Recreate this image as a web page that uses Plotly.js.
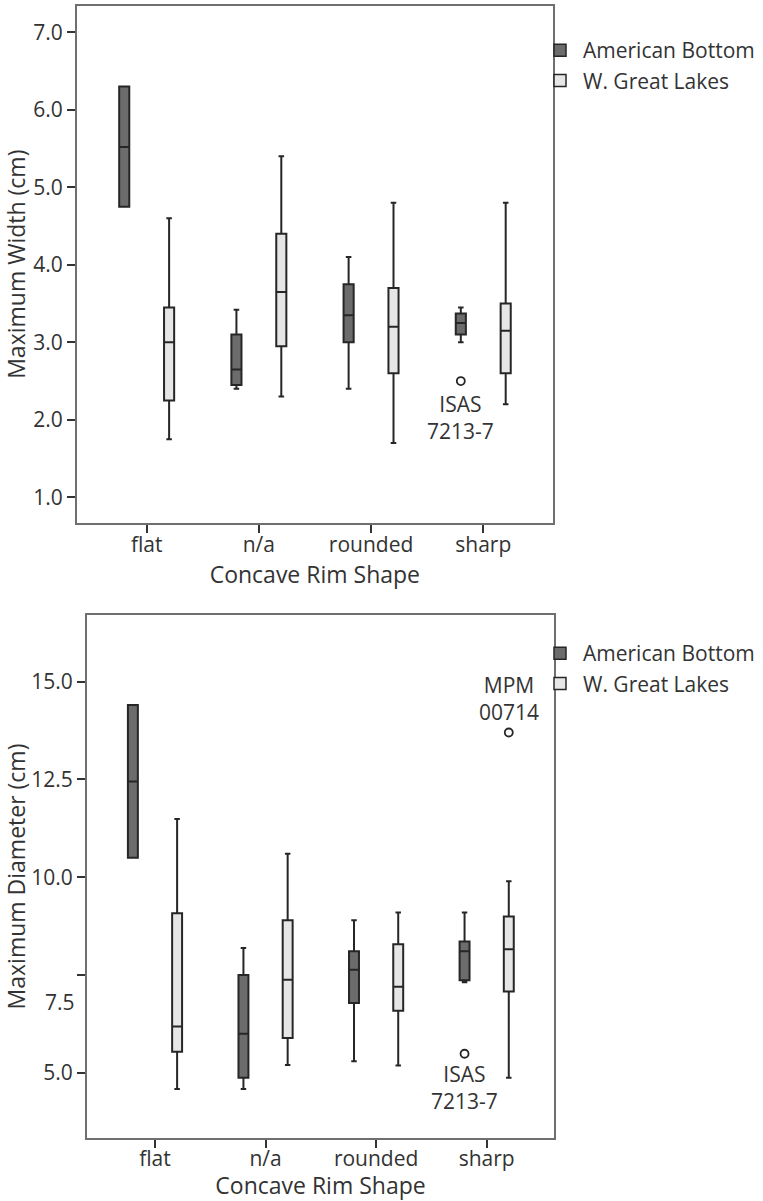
<!DOCTYPE html>
<html>
<head>
<meta charset="utf-8">
<script src="https://cdn.plot.ly/plotly-3.0.1.min.js"></script>
<style>html,body{margin:0;padding:0;background:#fff;}#chart{width:763px;height:1201px;}</style>
</head>
<body>
<div id="chart"></div>
<script>
// ---- data ----
var categories = ['flat', 'n/a', 'rounded', 'sharp'];
var seriesNames = ['American Bottom', 'W. Great Lakes'];

// Maximum Width (cm)
var widthAB_min = [4.75, 2.40, 2.40, 3.00];
var widthAB_q1  = [4.75, 2.45, 3.00, 3.10];
var widthAB_med = [5.52, 2.65, 3.35, 3.25];
var widthAB_q3  = [6.30, 3.10, 3.75, 3.37];
var widthAB_max = [6.30, 3.42, 4.10, 3.45];

var widthWGL_min = [1.75, 2.30, 1.70, 2.20];
var widthWGL_q1  = [2.25, 2.95, 2.60, 2.60];
var widthWGL_med = [3.00, 3.65, 3.20, 3.15];
var widthWGL_q3  = [3.45, 4.40, 3.70, 3.50];
var widthWGL_max = [4.60, 5.40, 4.80, 4.80];

// Maximum Diameter (cm)
var diamAB_min = [10.50, 4.59, 5.30, 7.32];
var diamAB_q1  = [10.50, 4.88, 6.79, 7.37];
var diamAB_med = [12.45, 6.00, 7.64, 8.11];
var diamAB_q3  = [14.40, 7.50, 8.11, 8.36];
var diamAB_max = [14.40, 8.19, 8.90, 9.10];

var diamWGL_min = [4.59, 5.20, 5.19, 4.88];
var diamWGL_q1  = [5.54, 5.89, 6.59, 7.08];
var diamWGL_med = [6.19, 7.38, 7.20, 8.16];
var diamWGL_q3  = [9.08, 8.90, 8.29, 9.00];
var diamWGL_max = [11.49, 10.60, 9.10, 9.90];

// outliers: category, series index (0 = American Bottom, 1 = W. Great Lakes), value, label
var widthOutliers = [
  {cat: 'sharp', series: 0, value: 2.50, label: 'ISAS<br>7213-7', labelY: 2.03}
];
var diamOutliers = [
  {cat: 'sharp', series: 1, value: 13.70, label: 'MPM<br>00714', labelY: 14.58},
  {cat: 'sharp', series: 0, value: 5.49, label: 'ISAS<br>7213-7', labelY: 4.63}
];

var widthTicks = [1, 2, 3, 4, 5, 6, 7];
var widthTickText = ['1.0', '2.0', '3.0', '4.0', '5.0', '6.0', '7.0'];
var diamTicks = [5, 7.5, 10, 12.5, 15];
var diamTickText = ['5.0', '', '10.0', '12.5', '15.0'];
var misplacedTickLabel = {text: '7.5', y: 6.82};

// ---- styling ----
var FONT = 'Open Sans, Liberation Sans, sans-serif';
var TXT = '#333333';
var fills = ['#6c6c6c', '#e6e6e6'];
var LINE = '#262626';
var GROUP_OFFSET = 0.2;   // dodge of each series from the category centre (category units)
var BOX_WIDTH = 0.09;     // box width (category units)
function seriesOffset(s) { return (s === 0 ? -1 : 1) * GROUP_OFFSET; }
var catIndex = categories.map(function (c, i) { return i; });

function boxTrace(name, idx, mn, q1, md, q3, mx, xa, ya) {
  return {
    type: 'box', name: name,
    x: catIndex.map(function (i) { return i + seriesOffset(idx); }),
    width: BOX_WIDTH,
    q1: q1, median: md, q3: q3, lowerfence: mn, upperfence: mx,
    boxpoints: false,
    fillcolor: fills[idx],
    line: {color: LINE, width: 2},
    whiskerwidth: 0.55,
    xaxis: xa, yaxis: ya, showlegend: false,
    hoverinfo: 'skip'
  };
}
function legendTrace(name, idx, xa, ya, leg) {
  return {
    type: 'scatter', mode: 'markers', name: name, x: [null], y: [null],
    marker: {symbol: 'square', size: 12, color: fills[idx], line: {color: LINE, width: 1.5}},
    xaxis: xa, yaxis: ya, legend: leg, showlegend: true, hoverinfo: 'skip'
  };
}
function outlierTrace(list, xa, ya) {
  return {
    type: 'scatter', mode: 'markers',
    x: list.map(function (o) { return categories.indexOf(o.cat) + seriesOffset(o.series); }),
    y: list.map(function (o) { return o.value; }),
    marker: {symbol: 'circle-open', size: 8, color: LINE, line: {width: 1.8, color: LINE}},
    xaxis: xa, yaxis: ya, showlegend: false, hoverinfo: 'skip'
  };
}

var data = [
  boxTrace(seriesNames[0], 0, widthAB_min, widthAB_q1, widthAB_med, widthAB_q3, widthAB_max, 'x', 'y'),
  boxTrace(seriesNames[1], 1, widthWGL_min, widthWGL_q1, widthWGL_med, widthWGL_q3, widthWGL_max, 'x', 'y'),
  boxTrace(seriesNames[0], 0, diamAB_min, diamAB_q1, diamAB_med, diamAB_q3, diamAB_max, 'x2', 'y2'),
  boxTrace(seriesNames[1], 1, diamWGL_min, diamWGL_q1, diamWGL_med, diamWGL_q3, diamWGL_max, 'x2', 'y2'),
  outlierTrace(widthOutliers, 'x', 'y'),
  outlierTrace(diamOutliers, 'x2', 'y2'),
  legendTrace(seriesNames[0], 0, 'x', 'y', 'legend'),
  legendTrace(seriesNames[1], 1, 'x', 'y', 'legend'),
  legendTrace(seriesNames[0], 0, 'x2', 'y2', 'legend2'),
  legendTrace(seriesNames[1], 1, 'x2', 'y2', 'legend2')
];

function xAxis(domain, range, anchor, standoff, lblStandoff) {
  return {
    domain: domain, anchor: anchor, type: 'linear',
    tickmode: 'array', tickvals: catIndex, ticktext: categories,
    range: range, showgrid: false, zeroline: false,
    showline: true, mirror: true, linecolor: '#6f6f6f', linewidth: 2,
    ticks: 'outside', ticklen: 8, tickwidth: 2, tickcolor: '#333',
    ticklabelstandoff: lblStandoff,
    tickfont: {family: FONT, size: 21, color: TXT},
    title: {text: 'Concave Rim Shape', font: {family: FONT, size: 23, color: TXT}, standoff: standoff},
    automargin: false, fixedrange: true
  };
}
function yAxis(domain, range, anchor, tv, tt, title) {
  return {
    domain: domain, anchor: anchor, range: range, tickmode: 'array', tickvals: tv, ticktext: tt,
    showgrid: false, zeroline: false,
    showline: true, mirror: true, linecolor: '#6f6f6f', linewidth: 2,
    ticks: 'outside', ticklen: 8, tickwidth: 2, tickcolor: '#333',
    tickfont: {family: FONT, size: 21, color: TXT},
    title: {text: title, font: {family: FONT, size: 23, color: TXT}, standoff: 1},
    automargin: false, fixedrange: true
  };
}

var W = 763, H = 1201;
var annotations = [];
function outlierAnn(o, xa, ya) {
  return {x: categories.indexOf(o.cat) + seriesOffset(o.series), y: o.labelY, xref: xa, yref: ya,
          text: o.label, showarrow: false, xanchor: 'center', yanchor: 'middle',
          font: {family: FONT, size: 21, color: TXT}};
}
widthOutliers.forEach(function (o) { annotations.push(outlierAnn(o, 'x', 'y')); });
diamOutliers.forEach(function (o) { annotations.push(outlierAnn(o, 'x2', 'y2')); });
annotations.push({x: 77 / W, xref: 'paper', y: misplacedTickLabel.y, yref: 'y2', text: misplacedTickLabel.text,
  showarrow: false, xanchor: 'right', yanchor: 'middle', font: {family: FONT, size: 21, color: TXT}});

var layout = {
  width: W, height: H,
  margin: {l: 0, r: 0, t: 0, b: 0, pad: 0},
  paper_bgcolor: '#ffffff', plot_bgcolor: '#ffffff',
  boxmode: 'overlay',
  font: {family: FONT, color: TXT},
  xaxis: xAxis([77 / W, 552.7 / W], [-0.621, 3.619], 'y', 0, -6),
  yaxis: yAxis([(H - 522.7) / H, (H - 5.7) / H], [0.672, 7.343], 'x', widthTicks, widthTickText, 'Maximum Width (cm)'),
  xaxis2: xAxis([87 / W, 554 / W], [-0.615, 3.609], 'y2', 3, -8),
  yaxis2: yAxis([(H - 1138.3) / H, (H - 614.7) / H], [3.33, 16.71], 'x2', diamTicks, diamTickText, 'Maximum Diameter (cm)'),
  legend: {x: 537 / W, xanchor: 'left', y: (H - 30) / H, yanchor: 'top', bgcolor: 'rgba(0,0,0,0)',
           font: {family: FONT, size: 21, color: TXT}, itemwidth: 36, tracegroupgap: 0},
  legend2: {x: 537 / W, xanchor: 'left', y: (H - 633) / H, yanchor: 'top', bgcolor: 'rgba(0,0,0,0)',
           font: {family: FONT, size: 21, color: TXT}, itemwidth: 36, tracegroupgap: 0},
  annotations: annotations
};

Plotly.newPlot('chart', data, layout, {staticPlot: true, displayModeBar: false});
</script>
</body>
</html>
